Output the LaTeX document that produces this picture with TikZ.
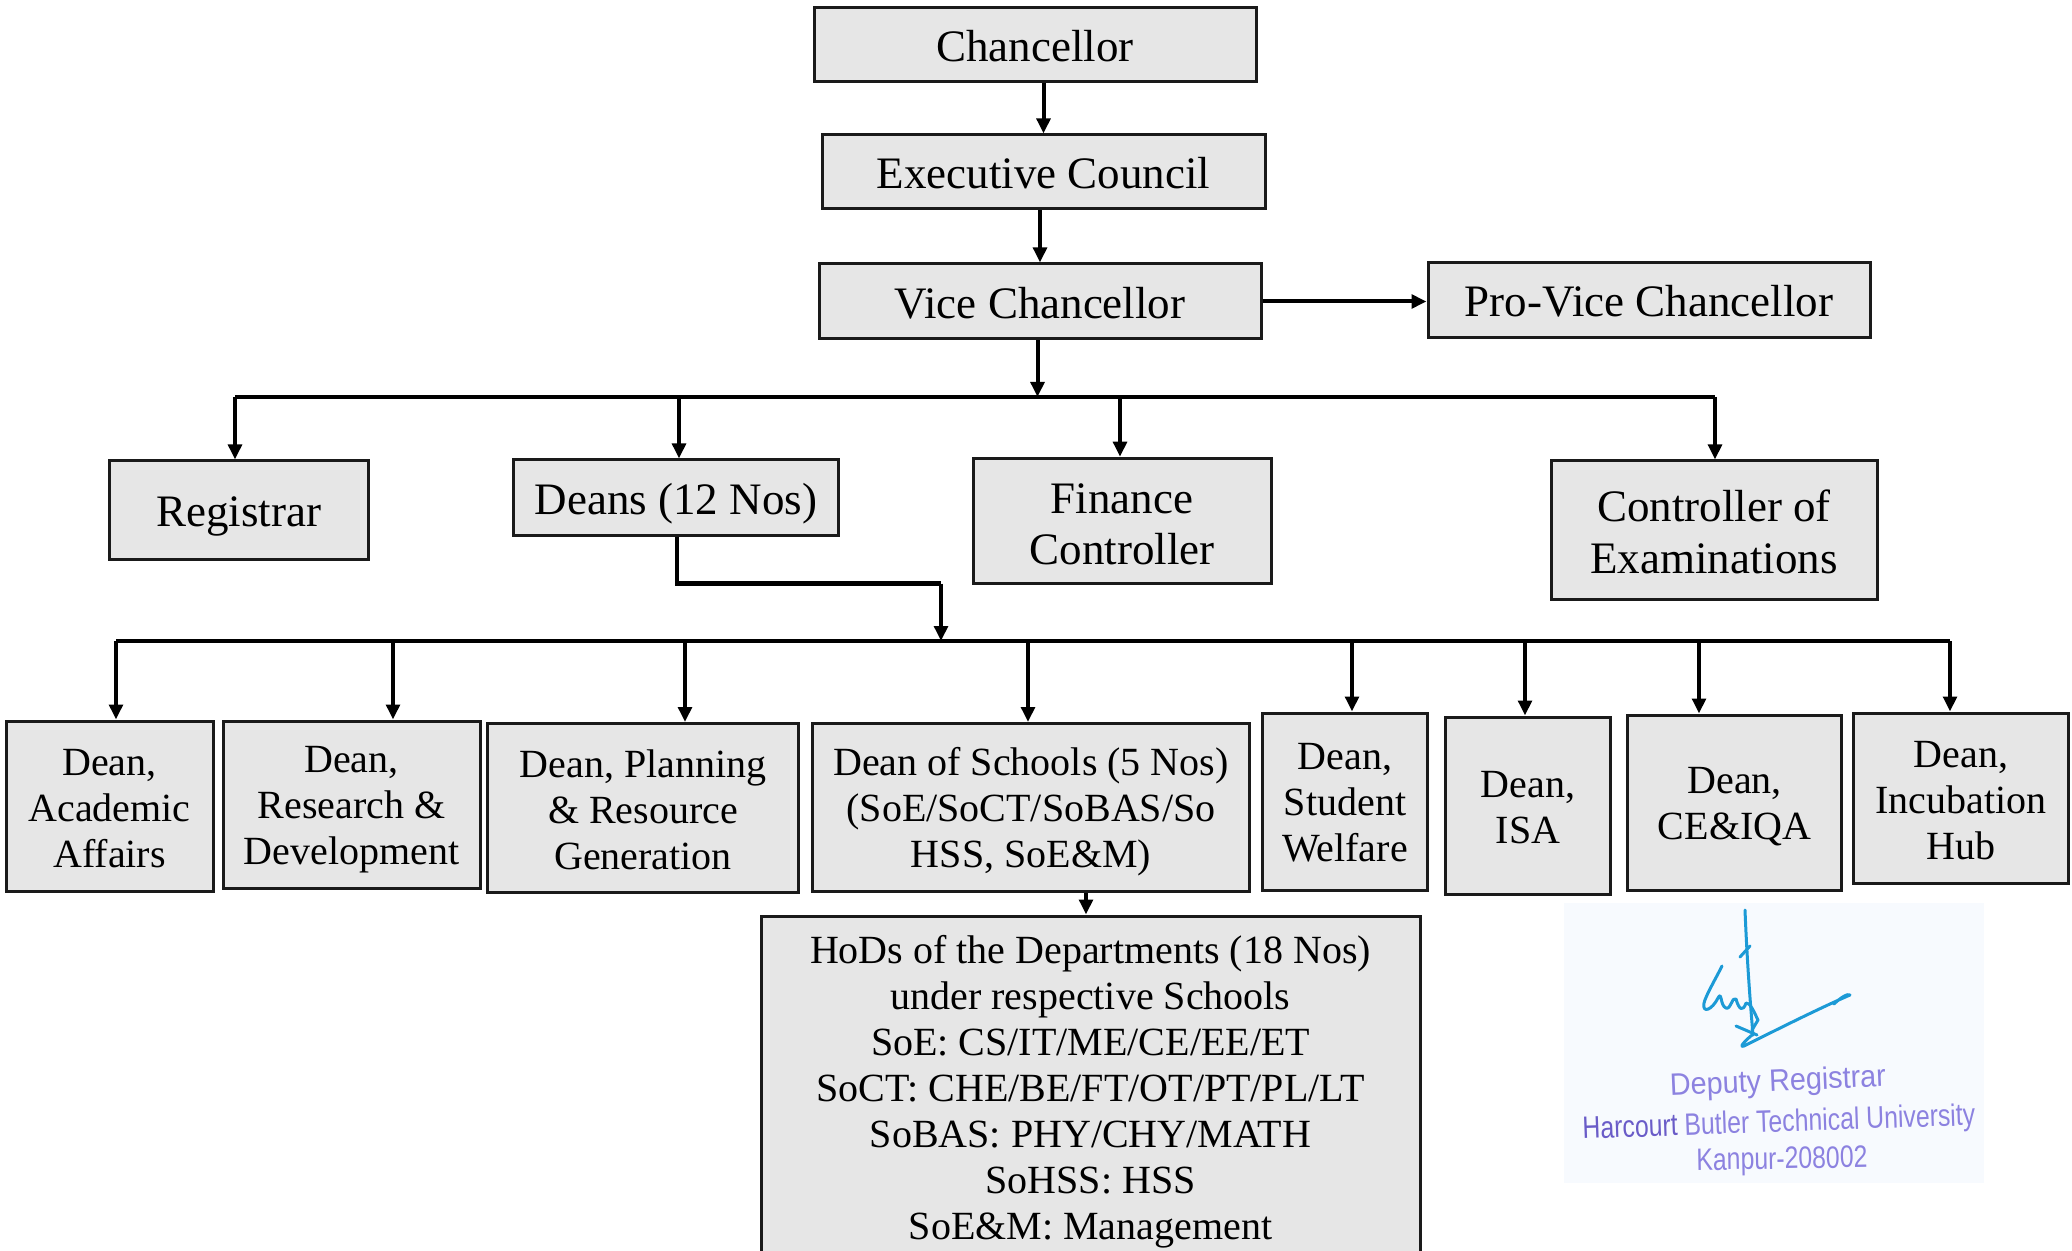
\documentclass[tikz,border=0pt]{standalone}
\usepackage{fontspec}
\usepackage{graphicx}
\setmainfont{Liberation Serif}
\newfontfamily\stampfont{Liberation Sans}
\usetikzlibrary{arrows.meta}
\definecolor{boxgray}{HTML}{E6E6E6}
\definecolor{boxline}{HTML}{1A1A1A}
\definecolor{stampbg}{HTML}{F7FAFE}
\definecolor{stampink}{HTML}{8C82E0}
\definecolor{stampdark}{HTML}{6A5CC8}
\definecolor{sigblue}{HTML}{1C9AD6}
\begin{document}
\begin{tikzpicture}[x=0.5pt,y=-0.5pt,
  box/.style={draw=boxline, line width=1.5pt, fill=boxgray, inner sep=0pt},
  ta/.style={align=center, inner sep=0pt, font=\fontsize{22.5}{25.8}\selectfont},
  tb/.style={align=center, inner sep=0pt, font=\fontsize{20}{23}\selectfont},
  conn/.style={line width=2pt, -{Triangle[length=7.5pt,width=6.8pt]}},
  busline/.style={line width=2.2pt},
  sig/.style={draw=sigblue, line width=1.5pt, line cap=round, line join=round},
  stamptxt/.style={text=stampink, inner sep=0pt, text height=8pt, text depth=1pt,
    font=\stampfont\fontsize{15.5}{17}\selectfont},
]
\useasboundingbox (0,0) rectangle (2072,1251);

% top level
\node[box, minimum width=221pt, minimum height=37pt, label={[ta,yshift=-0.7pt]center:{Chancellor}}] (ch) at (1035,45) {};
\node[box, minimum width=221.5pt, minimum height=37pt, label={[ta,yshift=-0.7pt]center:{Executive Council}}] (ec) at (1043.5,172) {};
\node[box, minimum width=221pt, minimum height=37.5pt, label={[ta,yshift=-0.7pt]center:{Vice Chancellor}}] (vc) at (1040,301.5) {};
\node[box, minimum width=221pt, minimum height=37.5pt, label={[ta,yshift=-0.7pt]center:{Pro-Vice Chancellor}}] (pvc) at (1649,300) {};

% second level
\node[box, minimum width=129.5pt, minimum height=49pt, label={[ta,yshift=-3.3pt]center:{Registrar}}] (reg) at (238.5,510) {};
\node[box, minimum width=162.75pt, minimum height=37.5pt, label={[ta,yshift=-3.3pt]center:{Deans (12 Nos)}}] (deans) at (676,497.5) {};
\node[box, minimum width=149pt, minimum height=62.75pt, label={[ta,yshift=-1.6pt]center:{Finance\\Controller}}] (fin) at (1122,521) {};
\node[box, minimum width=163pt, minimum height=69pt, label={[ta,yshift=-1pt]center:{Controller of\\Examinations}}] (coe) at (1714,530) {};

% deans
\node[box, minimum width=103.5pt, minimum height=85pt, label={[tb,yshift=-1.3pt]center:{Dean,\\Academic\\Affairs}}] (daa) at (109.5,806) {};
\node[box, minimum width=128.5pt, minimum height=83.5pt, label={[tb,yshift=-2.8pt]center:{Dean,\\Research \&\\Development}}] (drd) at (351.5,804.5) {};
\node[box, minimum width=155.25pt, minimum height=84.5pt, label={[tb,yshift=-0.7pt]center:{Dean, Planning\\\& Resource\\Generation}}] (dpl) at (643,808) {};
\node[box, minimum width=218.75pt, minimum height=84pt, label={[tb,yshift=-2pt]center:{Dean of Schools (5 Nos)\\(SoE/SoCT/SoBAS/So\\HSS, SoE\&M)}}] (dsc) at (1031,807.5) {};
\node[box, minimum width=82.75pt, minimum height=88.5pt, label={[tb,yshift=-0.8pt]center:{Dean,\\Student\\Welfare}}] (dsw) at (1345,801.5) {};
\node[box, minimum width=82.75pt, minimum height=88.5pt, label={[tb,yshift=-1pt]center:{Dean,\\ISA}}] (disa) at (1528,805.5) {};
\node[box, minimum width=107pt, minimum height=87.5pt, label={[tb,yshift=-2.3pt]center:{Dean,\\CE\&IQA}}] (dce) at (1734.6,802.5) {};
\node[box, minimum width=107.3pt, minimum height=85pt, label={[tb,yshift=-1.3pt]center:{Dean,\\Incubation\\Hub}}] (dih) at (1961,798) {};

% HoDs
\node[box, minimum width=329.5pt, minimum height=173.5pt, label={[tb,yshift=-1.3pt]center:{HoDs of the Departments (18 Nos)\\under respective Schools\\SoE: CS/IT/ME/CE/EE/ET\\SoCT: CHE/BE/FT/OT/PT/PL/LT\\SoBAS: PHY/CHY/MATH\\SoHSS: HSS\\SoE\&M: Management}}] (hod) at (1090.5,1089.5) {};

% connectors top
\draw[conn] (ec.north |- ch.south) -- (ec.north);
\draw[conn] (vc.north |- ec.south) -- (vc.north);
\draw[conn] (vc.east) -- (vc.east -| pvc.west);

% bus 1
\coordinate (b1) at (1037.5,397);
\coordinate (r1) at (235,397);
\coordinate (r2) at (679,397);
\coordinate (r3) at (1120,397);
\coordinate (r4) at (1715,397);
\draw[conn] (vc.south -| b1) -- (b1);
\draw[busline] (r1) -- (r4);
\draw[conn] (r1) -- (r1 |- reg.north);
\draw[conn] (r2) -- (r2 |- deans.north);
\draw[conn] (r3) -- (r3 |- fin.north);
\draw[conn] (r4) -- (r4 |- coe.north);

% deans to bus 2
\coordinate (dj) at (941,583.5);
\coordinate (b2) at (941,641);
\coordinate (dd) at (677,0);
\draw[busline] (dd |- deans.south) -- (dd |- dj) -- (dj);
\draw[conn] (dj) -- (b2);

\coordinate (q1) at (116,641);
\coordinate (q2) at (393,641);
\coordinate (q3) at (685,641);
\coordinate (q4) at (1028,641);
\coordinate (q5) at (1352,641);
\coordinate (q6) at (1525,641);
\coordinate (q7) at (1699,641);
\coordinate (q8) at (1950,641);
\draw[busline] (q1) -- (q8);
\draw[conn] (q1) -- (q1 |- daa.north);
\draw[conn] (q2) -- (q2 |- drd.north);
\draw[conn] (q3) -- (q3 |- dpl.north);
\draw[conn] (q4) -- (q4 |- dsc.north);
\draw[conn] (q5) -- (q5 |- dsw.north);
\draw[conn] (q6) -- (q6 |- disa.north);
\draw[conn] (q7) -- (q7 |- dce.north);
\draw[conn] (q8) -- (q8 |- dih.north);

% schools to HoDs
\coordinate (s1) at (1086,0);
\draw[conn] (s1 |- dsc.south) -- (s1 |- hod.north);

% stamp
\fill[stampbg] (1564,903) rectangle (1984,1183);
\draw[sig] (1745,910) .. controls (1747,960) and (1750,1000) .. (1753,1035);
\draw[sig] (1740,957) -- (1750,946);
\draw[sig] (1722,966) .. controls (1715,980) and (1706,995) .. (1704,1003)
  .. controls (1702,1014) and (1712,1010) .. (1718,998)
  .. controls (1722,990) and (1720,1006) .. (1726,1008)
  .. controls (1731,1010) and (1732,996) .. (1736,999)
  .. controls (1739,1010) and (1743,1012) .. (1746,1003)
  .. controls (1750,1002) and (1754,1012) .. (1758,1020) -- (1752,1030);
\draw[sig] (1736,1026) -- (1757,1035);
\draw[sig] (1752,1035) .. controls (1746,1040) and (1738,1048) .. (1744,1046)
  .. controls (1780,1028) and (1820,1008) .. (1850,995)
  .. controls (1848,993) and (1840,998) .. (1834,1004);
\node[stamptxt, rotate=2.5] (st1) at (1778,1084) {\scalebox{0.93}[1]{Deputy Registrar}};
\node[stamptxt, rotate=2] (st2) at (1779,1125) {\scalebox{0.8}[1]{\textcolor{stampdark}{Harcourt} Butler Technical University}};
\node[stamptxt, rotate=1] (st3) at (1782,1162) {\scalebox{0.8}[1]{Kanpur-208002}};
\end{tikzpicture}
\end{document}
